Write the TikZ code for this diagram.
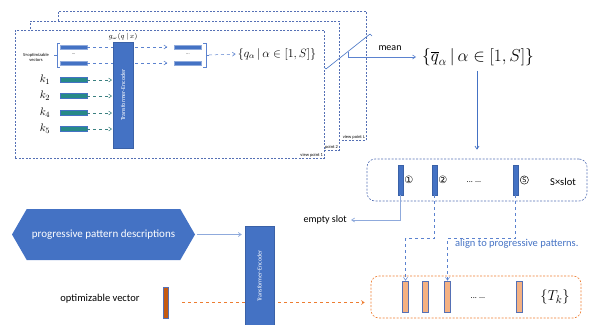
\documentclass[tikz,border=0pt]{standalone}
\usepackage{fontspec}
\setmainfont{Carlito}
\newfontfamily\circfont{DejaVu Sans}
\usetikzlibrary{arrows.meta,positioning,shapes.symbols}

\definecolor{officeblue}{HTML}{4472C4}
\definecolor{lineblue}{HTML}{5B82CF}
\definecolor{paleblue}{HTML}{8FAADC}
\definecolor{framegray}{HTML}{5570B5}
\definecolor{tealbar}{HTML}{278A88}
\definecolor{tealline}{HTML}{3A8080}
\definecolor{darkorange}{HTML}{C55A11}
\definecolor{lightorange}{HTML}{F4B183}
\definecolor{dashorange}{HTML}{ED7D31}

\tikzset{
  viewframe/.style={draw=framegray, dash pattern=on 2pt off 1.5pt, line width=0.6pt, fill=white, anchor=north west, inner sep=0},
  vplabel/.style={font=\fontsize{4.5}{5}\selectfont, anchor=south east, inner sep=1.5pt},
  encoder/.style={fill=officeblue, draw=officeblue!85!black, line width=0.3pt, inner sep=0, text=white, font=\fontsize{6}{7}\selectfont},
  vecbar/.style={fill=officeblue, draw=paleblue, line width=0.5pt, minimum width=27, minimum height=4.5, inner sep=0},
  keybar/.style={fill=tealbar, draw=officeblue, line width=0.6pt, minimum width=27, minimum height=4.5, inner sep=0},
  slotbar/.style={fill=officeblue, draw=officeblue!85!black, line width=0.3pt, minimum width=5, minimum height=30, inner sep=0},
  tokbar/.style={fill=lightorange, draw=framegray, line width=0.6pt, minimum width=6, minimum height=31, inner sep=0},
  barrow/.style={-{Straight Barb[length=3pt,width=4pt]}},
  txt/.style={font=\fontsize{10.5}{12}\selectfont, inner sep=0},
  tiny/.style={font=\fontsize{4.5}{5}\selectfont, inner sep=0, align=center},
}

\begin{document}
\begin{tikzpicture}[x=1pt,y=-1pt]
\useasboundingbox (0,0) rectangle (599,324);

\node[viewframe, minimum width=308, minimum height=129] (vpL) at (58,11) {};
\node[vplabel] at (vpL.south east) {view point L};
\node[viewframe, minimum width=309, minimum height=129] (vp2) at (30,21) {};
\node[vplabel] at (vp2.south east) {view point 2};
\node[viewframe, minimum width=309, minimum height=128] (vp1) at (15,30) {};
\node[vplabel] at (vp1.south east) {view point 1};

\node[tiny] (sopt) at (36,57) {S×optimizable\\vectors};
\node[vecbar] (v1) at (73.5,47) {};
\node[vecbar] (v2) at (73.5,63) {};
\node[tiny] at (73.5,54) {...};
\draw[lineblue, line width=0.4pt] (60,43) -| (57,67) -- (60,67);
\draw[lineblue, line width=0.4pt] (57,55) -- (54,55);

\node[vecbar] (w1) at (188,47) {};
\node[vecbar] (w2) at (188,63) {};
\node[tiny] at (188,54) {...};
\draw[lineblue, line width=0.4pt] (203,43) -| (206,67) -- (203,67);

\foreach \y/\lab [count=\i] in {80/1,96/2,113/4,129/5}{
  \node[keybar] (kb\i) at (73.5,\y) {};
  \node[font=\fontsize{11}{12}\selectfont, inner sep=0] (kl\i) at (45,\y) {$k_{\lab}$};
  \draw[tealline, dashed, barrow, line width=0.5pt] (kb\i.east) -- ([xshift=-1pt]kb\i.east -| 113,0);
}

\draw[lineblue, dashed, barrow, line width=0.5pt, shorten >=7pt] (v1.east) -- (w1.west);
\draw[lineblue, dashed, barrow, line width=0.5pt, shorten >=7pt] (v2.east) -- (w2.west);

\node[encoder, minimum width=20, minimum height=106] (enc1) at (123,95) {\rotatebox{90}{Transformer-Encoder}};
\node[above=1.5pt of enc1, inner sep=0, font=\fontsize{7.5}{8}\selectfont] (gw) {$g_\omega(q\,|\,x)$};

\node[inner sep=0, font=\fontsize{11.5}{13}\selectfont] (qset) at (277,54) {$\{q_\alpha\,|\,\alpha\in[1,S]\}$};
\coordinate (brk) at (206,55);
\draw[lineblue, line width=0.4pt] (brk) -- ++(3,0) coordinate (brkt);
\draw[lineblue, dashed, barrow, line width=0.5pt, shorten >=2pt] (brkt) -- (qset.west);

\node[inner sep=0, font=\fontsize{16.5}{18}\selectfont] (qbar) at (478,57) {$\{\overline{q}_\alpha\,|\,\alpha\in[1,S]\}$};
\coordinate (mA) at (326,69);
\coordinate (mB) at (370,34);
\coordinate (mM) at (348,52);
\draw[officeblue, line width=0.6pt] (mA) -- (mB);
\draw[officeblue, line width=0.6pt] (mA) -- ++(-2,-2);
\draw[officeblue, line width=0.6pt] (mB) -- ++(2,2);
\draw[lineblue, barrow, line width=0.6pt, shorten >=6pt] (mM) |- (qbar.west);
\node[txt, font=\fontsize{10}{12}\selectfont] (mean) at (390,48) {mean};

\node[draw=framegray, dash pattern=on 2pt off 1.5pt, line width=0.6pt, rounded corners=8pt, minimum width=220, minimum height=42] (slotbox) at (477,180) {};
\draw[officeblue, barrow, line width=0.7pt, shorten <=5pt, shorten >=9pt] (qbar.south -| slotbox.north) -- (slotbox.north);

\node[slotbar] (s1) at (400.5,180) {};
\node[slotbar] (s2) at (434.5,180) {};
\node[slotbar] (sS) at (515.5,180) {};
\node[right=1pt of s1, inner sep=0, font=\circfont\fontsize{10}{12}\selectfont] (c1) {①};
\node[right=1pt of s2, inner sep=0, font=\circfont\fontsize{10}{12}\selectfont] (c2) {②};
\node[right=1.8pt of sS, circle, draw, line width=0.45pt, minimum size=8.3pt, inner sep=0, font=\circfont\fontsize{6.5}{7}\selectfont] (cS) {S};
\node[txt, font=\fontsize{8}{10}\selectfont] at (474,182) {... ...};
\node[txt, font=\fontsize{10.5}{12}\selectfont] (sxslot) at (563,182) {S×slot};

\node[txt, font=\fontsize{10}{12}\selectfont, anchor=east] (empty) at (347,220) {empty slot};
\draw[paleblue, barrow, line width=0.7pt, shorten >=4pt] (s1.south) |- (empty.east);

\node[draw=dashorange, dash pattern=on 2pt off 1.5pt, line width=0.6pt, rounded corners=8pt, minimum width=210, minimum height=42] (tokbox) at (476,297) {};
\node[tokbar] (t1) at (405.5,296.5) {};
\node[tokbar] (t2) at (425,296.5) {};
\node[tokbar] (t3) at (447.5,296.5) {};
\node[tokbar] (t4) at (519.5,296.5) {};
\node[txt, font=\fontsize{8}{10}\selectfont] at (478,298) {... ...};
\node[inner sep=0, font=\fontsize{15}{17}\selectfont] (Tk) at (555,297) {$\{T_k\}$};

\draw[lineblue, dashed, barrow, line width=0.5pt] (s2.south) -- ++(0,43) -| (t1.north);
\draw[lineblue, dashed, barrow, line width=0.5pt] (sS.south) -- ++(0,43) -| (t3.north);
\node[txt, text=officeblue, font=\fontsize{10.5}{12}\selectfont, anchor=west] (align) at (455,244) {align to progressive patterns.};

\node[shape=signal, signal to=west and east, signal pointer angle=120, fill=officeblue, text=white, font=\fontsize{11}{13}\selectfont, minimum width=183, minimum height=51, inner sep=0] (hex) at (103.5,234.5) {progressive pattern descriptions};

\node[fill=darkorange, draw=framegray, line width=0.6pt, minimum width=5, minimum height=31, inner sep=0] (ovec) at (165.5,302.5) {};
\node[txt, font=\fontsize{10.5}{12}\selectfont] (olab) at (100,299) {optimizable vector};
\draw[dashorange, dashed, barrow, line width=0.6pt, shorten <=14pt, shorten >=6pt] (ovec.east) -- (ovec.east -| tokbox.west);

\node[encoder, minimum width=29, minimum height=100, anchor=north] (enc2) at (259.5,226) {\rotatebox{90}{Transformer-Encoder}};
\draw[paleblue, barrow, line width=0.7pt, shorten <=2pt, shorten >=3pt] (hex.east) -- (hex.east -| enc2.west);

\end{tikzpicture}
\end{document}
